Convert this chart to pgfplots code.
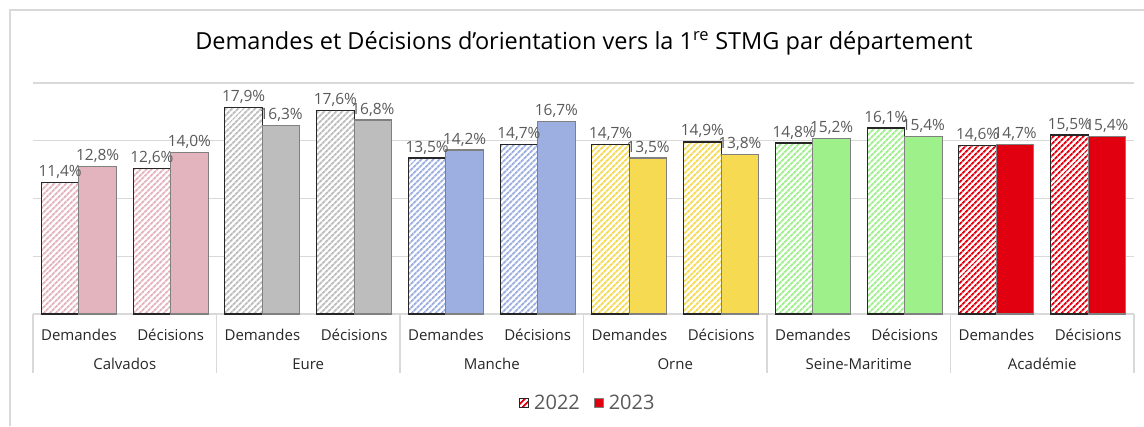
\documentclass[border=0pt]{standalone}
\usepackage{fontspec}
\setmainfont{Open Sans}
\usepackage{pgfplots}
\pgfplotsset{compat=1.18}
\usetikzlibrary{patterns.meta}
\definecolor{calv}{RGB}{228,180,190}
\definecolor{eure}{RGB}{189,189,189}
\definecolor{manc}{RGB}{157,175,224}
\definecolor{orne}{RGB}{245,218,82}
\definecolor{seim}{RGB}{158,240,138}
\definecolor{acad}{RGB}{225,0,15}
\definecolor{gridc}{RGB}{217,217,217}
\definecolor{lblc}{RGB}{89,89,89}
\pgfplotsset{
  h22/.style={draw=black!85, line width=1.2pt, preaction={fill=white},
    pattern={Lines[angle=45,distance=4pt,line width=2pt]}, pattern color=#1, bar shift=-18.75pt},
  s23/.style={draw=gray, line width=1.2pt, fill=#1, bar shift=18.75pt},
}
\begin{document}
\begin{tikzpicture}
\path[use as bounding box] (0,0) rectangle (1144pt,-426pt);
\draw[gridc, line width=1.5pt] (10pt,-426pt) -- (10pt,-10pt) -- (1144pt,-10pt);
\node at (584pt,-43pt) {\fontsize{23.5}{27}\selectfont Demandes et Décisions d'orientation vers la 1\textsuperscript{re} STMG par département};
\begin{axis}[
  at={(33pt,-314pt)}, anchor=south west,
  scale only axis, width=1101pt, height=231pt,
  xmin=-0.5, xmax=11.5, ymin=0, ymax=20,
  ybar, bar width=37.5pt,
  clip=false,
  axis line style={draw=none}, tick style={draw=none},
  ytick={0,5,10,15,20}, yticklabels={},
  ymajorgrids, major grid style={gridc, line width=1.3pt},
  xtick={0,...,11},
  xticklabels={Demandes,Décisions,Demandes,Décisions,Demandes,Décisions,Demandes,Décisions,Demandes,Décisions,Demandes,Décisions},
  xticklabel style={font=\fontsize{15}{18}\selectfont, text=black!85, yshift=-7pt},
  nodes near coords={\pgfmathprintnumber{\pgfplotspointmeta}\%},
  every node near coord/.append style={font=\fontsize{15.5}{18}\selectfont, text=lblc,
    /pgf/number format/.cd, fixed, fixed zerofill, precision=1, use comma, assume math mode=true},
  legend style={draw=none, at={(0.504,-0.385)}, anchor=center, legend columns=2,
    font=\fontsize{20}{23}\selectfont, text=lblc,
    /tikz/every even column/.append style={column sep=12pt},
    /tikz/every odd column/.append style={column sep=3pt}},
  legend image code/.code={\draw[#1, line width=0.9pt] (0pt,-4.5pt) rectangle (9pt,4.5pt);},
]
\addplot[h22=calv, forget plot] coordinates {(0,11.4) (1,12.6)};
\addplot[s23=calv, forget plot] coordinates {(0,12.8) (1,14.0)};
\addplot[h22=eure, forget plot] coordinates {(2,17.9) (3,17.6)};
\addplot[s23=eure, forget plot] coordinates {(2,16.3) (3,16.8)};
\addplot[h22=manc, forget plot] coordinates {(4,13.5) (5,14.7)};
\addplot[s23=manc, forget plot] coordinates {(4,14.2) (5,16.7)};
\addplot[h22=orne, forget plot] coordinates {(6,14.7) (7,14.9)};
\addplot[s23=orne, forget plot] coordinates {(6,13.5) (7,13.8)};
\addplot[h22=seim, forget plot] coordinates {(8,14.8) (9,16.1)};
\addplot[s23=seim, forget plot] coordinates {(8,15.2) (9,15.4)};
\addplot[h22=acad] coordinates {(10,14.6) (11,15.5)};
\addplot[s23=acad] coordinates {(10,14.7) (11,15.4)};
\legend{2022,2023}
\foreach \x in {-0.5,1.5,3.5,5.5,7.5,9.5,11.5} {
  \edef\tmp{\noexpand\draw[gridc, line width=1.2pt] (axis cs:\x,0) -- ([yshift=-59pt]axis cs:\x,0);}\tmp
}
\node[font=\fontsize{15}{18}\selectfont, text=black!85] at (axis cs:0.5,0) [yshift=-50pt] {Calvados};
\node[font=\fontsize{15}{18}\selectfont, text=black!85] at (axis cs:2.5,0) [yshift=-50pt] {Eure};
\node[font=\fontsize{15}{18}\selectfont, text=black!85] at (axis cs:4.5,0) [yshift=-50pt] {Manche};
\node[font=\fontsize{15}{18}\selectfont, text=black!85] at (axis cs:6.5,0) [yshift=-50pt] {Orne};
\node[font=\fontsize{15}{18}\selectfont, text=black!85] at (axis cs:8.5,0) [yshift=-50pt] {Seine-Maritime};
\node[font=\fontsize{15}{18}\selectfont, text=black!85] at (axis cs:10.5,0) [yshift=-50pt] {Académie};
\end{axis}
\end{tikzpicture}
\end{document}
